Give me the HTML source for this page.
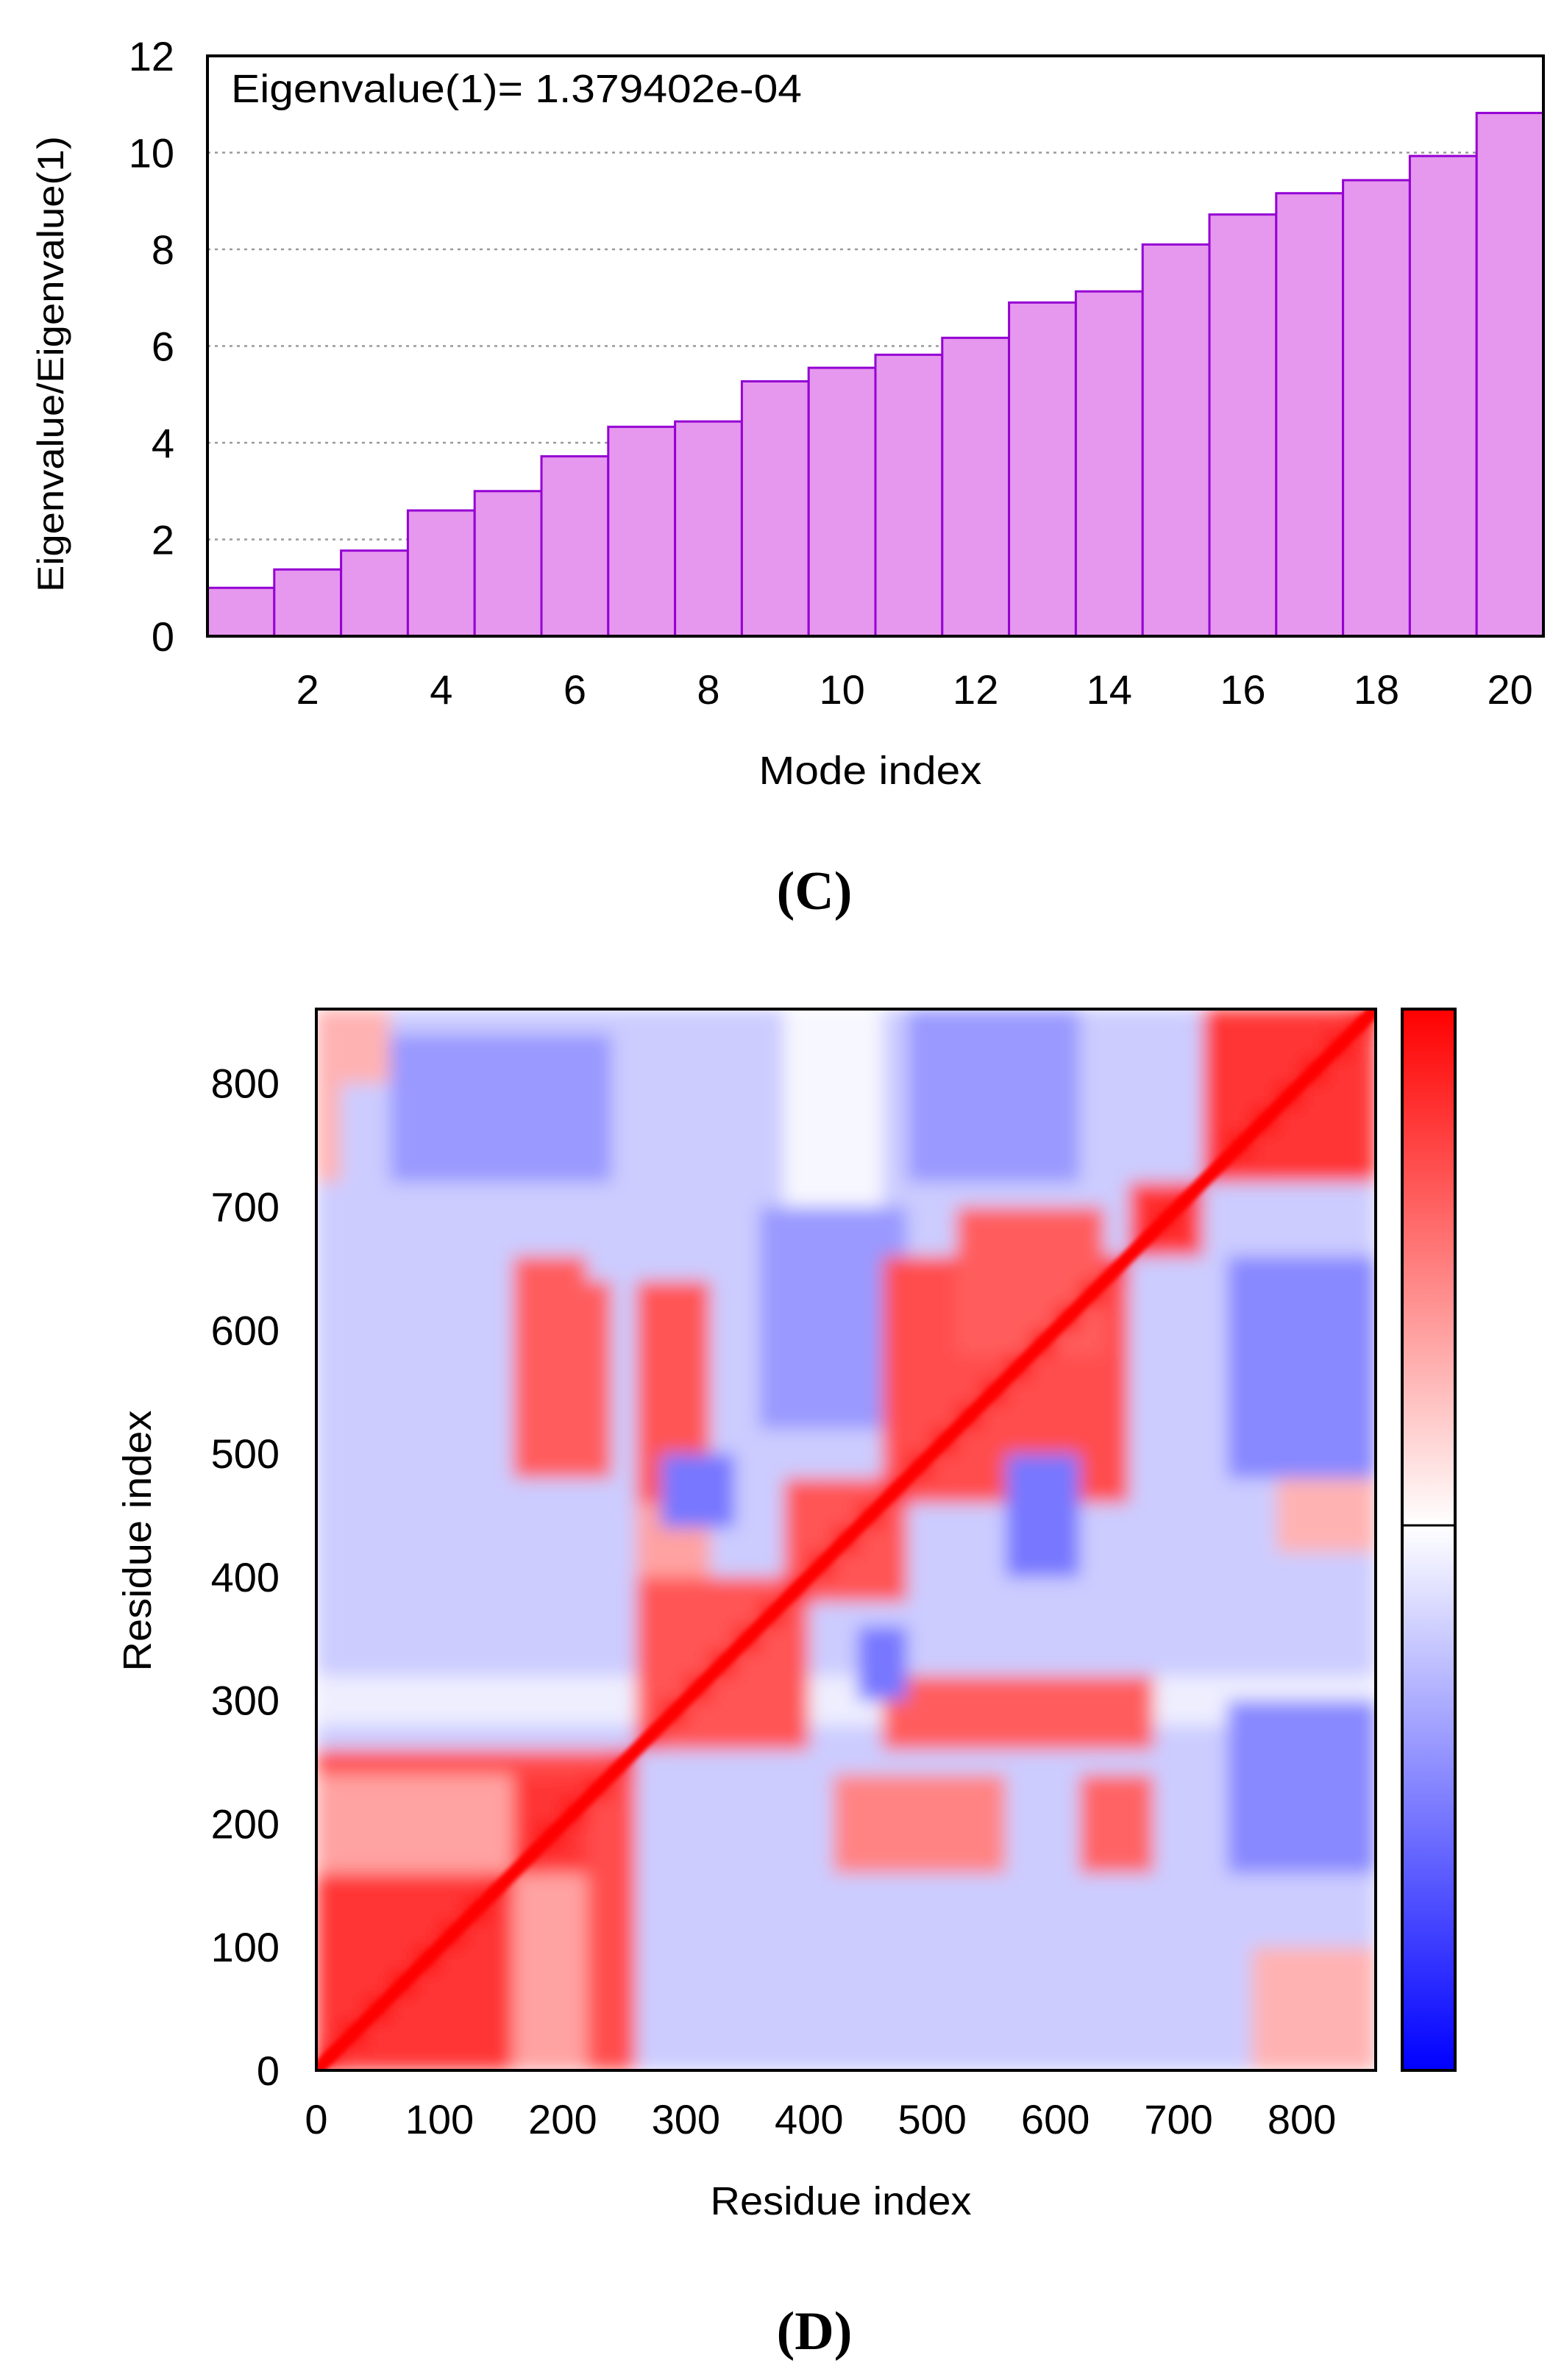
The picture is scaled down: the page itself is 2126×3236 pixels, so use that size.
<!DOCTYPE html>
<html><head><meta charset="utf-8"><style>
html,body{margin:0;padding:0;background:#fff}
svg{display:block}
text{font-family:"Liberation Sans",sans-serif;fill:#000}
</style></head><body>
<svg id="root" width="2126" height="3236" viewBox="0 0 2126 3236" xmlns="http://www.w3.org/2000/svg">
<defs>
<linearGradient id="cbar" x1="0" y1="0" x2="0" y2="1">
<stop offset="0" stop-color="#ff0000"/><stop offset="0.4865" stop-color="#ffffff"/><stop offset="1" stop-color="#0000ff"/>
</linearGradient>
<filter id="blur" x="0" y="0" width="1" height="1"><feGaussianBlur stdDeviation="12" edgeMode="duplicate"/></filter>
<filter id="blur2"><feGaussianBlur stdDeviation="3"/></filter>
<clipPath id="hmclip"><rect x="430" y="1372" width="1440" height="1443"/></clipPath>
</defs>
<g id="chartC"></g>
<g id="chartD"></g>
</svg>
<script>
const modes=[1,2,3,4,5,6,7,8,9,10,11,12,13,14,15,16,17,18,19,20];
const ratios=[1.0,1.38,1.77,2.6,3.0,3.72,4.33,4.44,5.27,5.55,5.82,6.17,6.9,7.13,8.1,8.72,9.16,9.43,9.93,10.82];
const yTicks=[0,2,4,6,8,10,12];
const xTicks=[2,4,6,8,10,12,14,16,18,20];
// heatmap regions: [x0,x1,y0,y1,value] in residue units
const hmBackground=-0.6;
const hmRegions=[
[0,860,280,330,-0.2],[380,460,700,860,-0.1],[480,620,720,860,-1.2],[60,250,720,840,-1.2],
[360,480,520,700,-1.2],[740,860,490,660,-1.4],[740,860,170,310,-1.4],
[0,70,800,860,1],[0,30,720,800,1],[780,860,420,490,1],[760,860,0,100,1],
[0,160,160,250,1.2],[160,260,0,160,1.2],
[0,160,0,160,2.6],[160,270,160,270,2.6],[0,270,240,260,2.3],[230,260,0,250,2.3],
[270,400,270,400,2.2],[380,480,380,480,2.2],[470,660,470,660,2.3],
[270,330,450,650,2.2],[260,330,400,470,1.2],[460,680,260,325,2.1],
[160,240,480,640,2.1],[160,230,620,660,2.1],[430,560,170,250,1.6],[630,690,170,240,2],
[520,650,590,700,2.1],[280,350,445,500,-1.6],[560,630,410,500,-1.6],[440,490,305,355,-1.6],
[660,720,660,720,2.6],[720,860,720,860,2.6]
];
const hmTicks=[0,100,200,300,400,500,600,700,800];
const hmMax=860, cell=20, diagWidth=10;

const NS="http://www.w3.org/2000/svg";
function el(tag,attrs,parent,txt){const e=document.createElementNS(NS,tag);for(const k in attrs)e.setAttribute(k,attrs[k]);if(txt!==undefined)e.textContent=txt;parent.appendChild(e);return e;}

// ---- Chart C
const C=document.getElementById('chartC');
const cL=282,cR=2098,cT=76,cB=865,yMax=12,nBars=20;
const bw=(cR-cL)/nBars;
const xc=i=>cL+(i-0.5)*bw;
const ys=v=>cB-v*(cB-cT)/yMax;
yTicks.forEach(t=>{
 if(t>0&&t<12){const g=el('line',{x1:cL,x2:cR,y1:ys(t),y2:ys(t),stroke:'#999',"stroke-width":2.5,"stroke-dasharray":"4 6"},C);
 }
 const tx=el('text',{x:237,y:ys(t)+20,"font-size":56,"text-anchor":"end"},C,String(t));
 
 
});
modes.forEach((m,i)=>{
 const r=el('rect',{x:xc(m)-bw/2,y:ys(ratios[i]),width:bw,height:cB-ys(ratios[i]),fill:'#e697ee',stroke:'#9400d3',"stroke-width":3},C);
 
 
});
xTicks.forEach(t=>{
 const tx=el('text',{x:xc(t),y:957,"font-size":56,"text-anchor":"middle"},C,String(t));
 
 
});
let fr=el('rect',{x:cL,y:cT,width:cR-cL,height:cB-cT,fill:'none',stroke:'#000',"stroke-width":4},C);

let t1=el('text',{x:314,y:139,"font-size":54,textLength:776,lengthAdjust:'spacingAndGlyphs'},C,'Eigenvalue(1)= 1.379402e-04');

let t2=el('text',{x:0,y:0,"font-size":50,"text-anchor":"middle",transform:'translate(86,495) rotate(-90)',textLength:620,lengthAdjust:'spacingAndGlyphs'},C,'Eigenvalue/Eigenvalue(1)');

let t3=el('text',{x:1183,y:1066,"font-size":54,"text-anchor":"middle",textLength:303,lengthAdjust:'spacingAndGlyphs'},C,'Mode index');

let t4=el('text',{x:1107,y:1236,"font-size":74,"text-anchor":"middle","font-weight":"bold",style:'font-family:"Liberation Serif",serif'},C,'(C)');


// ---- Chart D
const D=document.getElementById('chartD');
const hL=430,hR=1870,hT=1372,hB=2815;
const hx=v=>hL+v*(hR-hL)/hmMax;
const hy=v=>hB-v*(hB-hT)/hmMax;
function color(v){
 if(v>=0){const t=Math.min(v/3.3,1);const c=Math.round(255*(1-t));return `rgb(255,${c},${c})`;}
 const t=Math.min(-v/3,1);const c=Math.round(255*(1-t));return `rgb(${c},${c},255)`;
}
const cg=el('g',{"clip-path":'url(#hmclip)'},D);

const bg=el('g',{filter:'url(#blur)'},cg);
const n=Math.ceil(hmMax/cell);
for(let i=0;i<n;i++)for(let j=0;j<n;j++){
 const cx=i*cell+cell/2, cy=j*cell+cell/2;
 let v=hmBackground;
 hmRegions.forEach(r=>{if(cx>=r[0]&&cx<r[1]&&cy>=r[2]&&cy<r[3])v=r[4];});
 if(Math.abs(cx-cy)<diagWidth)v=3.3;
 const rc=el('rect',{x:hx(i*cell)-0.5,y:hy((j+1)*cell)-0.5,width:hx(cell)-hL+1,height:hy(0)-hy(cell)+1,fill:color(v)},bg);
 
 
}
const dg=el('line',{x1:hx(0),y1:hy(0),x2:hx(hmMax),y2:hy(hmMax),stroke:'#ff0000',"stroke-width":18,filter:'url(#blur2)'},cg);

let hf=el('rect',{x:hL,y:hT,width:hR-hL,height:hB-hT,fill:'none',stroke:'#000',"stroke-width":4},D);

hmTicks.forEach(t=>{
 const a=el('text',{x:380,y:hy(t)+20,"font-size":56,"text-anchor":"end"},D,String(t));
 
 
 const b=el('text',{x:hx(t),y:2901,"font-size":56,"text-anchor":"middle"},D,String(t));
 
 
});
let cb=el('rect',{x:1906,y:hT,width:72,height:hB-hT,fill:'url(#cbar)',stroke:'#000',"stroke-width":4},D);

let cm=el('line',{x1:1906,x2:1978,y1:2074,y2:2074,stroke:'#000',"stroke-width":3},D);

let d1=el('text',{x:1143,y:3011,"font-size":54,"text-anchor":"middle",textLength:355,lengthAdjust:'spacingAndGlyphs'},D,'Residue index');

let d2=el('text',{x:0,y:0,"font-size":54,"text-anchor":"middle",transform:'translate(205,2095) rotate(-90)',textLength:355,lengthAdjust:'spacingAndGlyphs'},D,'Residue index');

let d3=el('text',{x:1107,y:3194,"font-size":74,"text-anchor":"middle","font-weight":"bold",style:'font-family:"Liberation Serif",serif'},D,'(D)');

</script>
</body></html>
